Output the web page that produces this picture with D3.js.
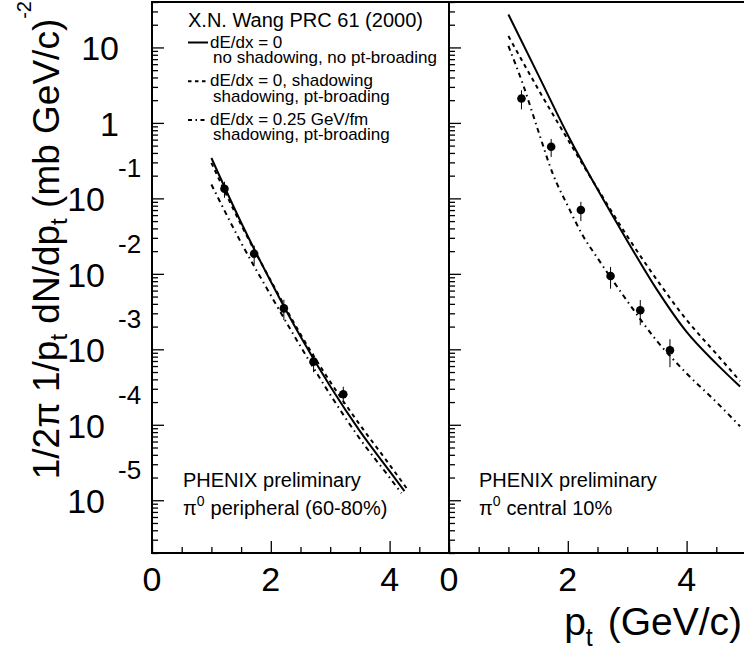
<!DOCTYPE html>
<html><head><meta charset="utf-8">
<script src="https://cdn.jsdelivr.net/npm/d3@7"></script>
<style>
body{margin:0;background:#fff}
svg{display:block}
text{font-family:"Liberation Sans",Arial,Helvetica,sans-serif;fill:#000}
</style>
</head><body><svg id="c" width="744" height="655"></svg>
<script>
// ---------------- data ----------------
const decades = [1e-5, 1e-4, 1e-3, 1e-2, 1e-1, 1, 10];
const decadeExp = [-5, -4, -3, -2, -1, 0, 1];
const xTickLabels = ["0", "2", "4"];
const xTickValues = [0, 2, 4];

// PHENIX pi0 data (peripheral 60-80%)
const ptPeripheral = [1.22, 1.72, 2.22, 2.72, 3.22];
const yieldPeripheral = [0.134, 0.0185, 3.49e-3, 6.87e-4, 2.54e-4];
const errPeripheral = [0.032, 0.0052, 1.05e-3, 1.9e-4, 6.5e-5];
// PHENIX pi0 data (central 10%)
const ptCentral = [1.22, 1.72, 2.22, 2.72, 3.22, 3.72];
const yieldCentral = [2.11, 0.484, 0.070, 9.35e-3, 3.29e-3, 9.7e-4];
const errCentral = [0.6, 0.13, 0.02, 0.003, 1.2e-3, 3.9e-4];

// X.N. Wang curves, peripheral
const ptPerNoShadow = [1.0, 1.5, 2.0, 2.5, 3.0, 3.5, 4.0, 4.25];
const perNoShadow = [0.343, 0.0479, 7.91e-3, 1.476e-3, 3.24e-4, 8.24e-5, 2.43e-5, 1.32e-5];
const ptPerShadow = [1.0, 1.5, 2.0, 2.5, 3.0, 3.5, 4.0, 4.32];
const perShadow = [0.295, 0.0447, 8.13e-3, 1.585e-3, 3.72e-4, 1.0e-4, 2.95e-5, 1.33e-5];
const ptPerQuench = [1.0, 1.5, 2.0, 2.5, 3.0, 3.5, 4.0, 4.2];
const perQuench = [0.153, 0.0259, 5.19e-3, 1.094e-3, 2.51e-4, 6.52e-5, 2.0e-5, 1.24e-5];
// X.N. Wang curves, central
const ptCenNoShadow = [1.0, 1.5, 2.0, 2.5, 3.0, 3.5, 4.0, 4.5, 4.9];
const cenNoShadow = [27.35, 4.365, 0.692, 0.1318, 0.02754, 6.17e-3, 1.70e-3, 6.46e-4, 3.21e-4];
const ptCenShadow = [1.0, 1.5, 2.0, 2.5, 3.0, 3.5, 4.0, 4.5, 4.9];
const cenShadow = [14.13, 2.818, 0.6026, 0.1349, 0.03162, 8.32e-3, 2.455e-3, 8.71e-4, 3.80e-4];
const ptCenQuench = [1.0, 1.25, 1.5, 1.75, 2.0, 2.25, 2.5, 3.0, 3.5, 4.0, 4.5, 4.9];
const cenQuench = [10.47, 3.162, 0.794, 0.209, 0.0794, 0.0324, 0.0162, 4.37e-3, 1.29e-3, 4.79e-4, 2.0e-4, 9.55e-5];

// ---------------- drawing ----------------
(function () {
const svg = d3.select("#c");
svg.append("rect").attr("width", 744).attr("height", 655).attr("fill", "#fff");

const yTop = 2, yBottom = 553;
const y = d3.scaleLog().domain([2e-6, 40]).range([yBottom, yTop]);
const xL = d3.scaleLinear().domain([0, 5]).range([152, 449]);
const xR = d3.scaleLinear().domain([0, 5]).range([449, 746]);

const minors = [];
for (let e = -6; e <= 1; e++) for (let m = 2; m <= 9; m++) {
  const v = m * Math.pow(10, e);
  if (v >= 2e-6 && v <= 40) minors.push(v);
}
const xMinor = d3.range(0.5, 5.01, 0.5).filter(v => v % 2 !== 0);

function styleAxis(g) {
  g.select(".domain").remove();
  g.selectAll(".tick line").attr("stroke", "#000").attr("stroke-width", 1.3);
  g.selectAll(".tick text").remove();
}

function panel(x, x0, x1) {
  svg.append("g").attr("transform", `translate(${x0},0)`)
    .call(d3.axisRight(y).tickValues(decades).tickSize(12).tickFormat("")).call(styleAxis);
  svg.append("g").attr("transform", `translate(${x0},0)`)
    .call(d3.axisRight(y).tickValues(minors).tickSize(6).tickFormat("")).call(styleAxis);
  svg.append("g").attr("transform", `translate(0,${yBottom})`)
    .call(d3.axisTop(x).tickValues(xTickValues).tickSize(12).tickFormat("")).call(styleAxis);
  svg.append("g").attr("transform", `translate(0,${yBottom})`)
    .call(d3.axisTop(x).tickValues(xMinor).tickSize(6).tickFormat("")).call(styleAxis);
  svg.append("rect").attr("x", x0).attr("y", yTop).attr("width", x1 - x0).attr("height", yBottom - yTop)
    .attr("fill", "none").attr("stroke", "#000").attr("stroke-width", 2);
  svg.append("g").selectAll("text").data(xTickValues).join("text")
    .attr("x", d => x(d)).attr("y", 591).attr("text-anchor", "middle")
    .attr("font-size", 34).text((d, i) => xTickLabels[i]);
}
panel(xL, 152, 449);
panel(xR, 449, 746);

decades.forEach((v, i) => {
  const e = decadeExp[i];
  const yy = y(v);
  if (e === 0) {
    svg.append("text").attr("x", 119).attr("y", yy + 13).attr("text-anchor", "end").attr("font-size", 34).text("1");
  } else if (e === 1) {
    svg.append("text").attr("x", 119).attr("y", yy + 13).attr("text-anchor", "end").attr("font-size", 34).text("10");
  } else {
    svg.append("text").attr("x", 105).attr("y", yy + 13).attr("text-anchor", "end").attr("font-size", 34).text("10");
    svg.append("text").attr("x", 118).attr("y", yy - 21).attr("text-anchor", "start").attr("font-size", 26).text(String(e));
  }
});

const dashStyles = {solid: null, dash: "4,4", dashdot: "5,4,1.5,4"};
const legendDash = {solid: null, dash: "3.5,3.5", dashdot: "4,3.5,1.5,3.5"};
function curve(x, pts, vals, style) {
  const data = pts.map((p, i) => [p, vals[i]]);
  svg.append("path").datum(data)
    .attr("d", d3.line().x(d => x(d[0])).y(d => y(d[1])).curve(d3.curveMonotoneX))
    .attr("fill", "none").attr("stroke", "#000").attr("stroke-width", 2)
    .attr("stroke-dasharray", dashStyles[style]);
}
curve(xL, ptPerNoShadow, perNoShadow, "solid");
curve(xL, ptPerShadow, perShadow, "dash");
curve(xL, ptPerQuench, perQuench, "dashdot");
curve(xR, ptCenNoShadow, cenNoShadow, "solid");
curve(xR, ptCenShadow, cenShadow, "dash");
curve(xR, ptCenQuench, cenQuench, "dashdot");

function points(x, pts, vals, errs) {
  const d = pts.map((p, i) => ({p, v: vals[i], e: errs[i]}));
  const g = svg.append("g");
  g.selectAll("line").data(d).join("line")
    .attr("x1", a => x(a.p)).attr("x2", a => x(a.p))
    .attr("y1", a => y(a.v + a.e)).attr("y2", a => y(a.v - a.e))
    .attr("stroke", "#000").attr("stroke-width", 1);
  g.selectAll("circle").data(d).join("circle")
    .attr("cx", a => x(a.p)).attr("cy", a => y(a.v)).attr("r", 4.3).attr("fill", "#000");
}
points(xL, ptPeripheral, yieldPeripheral, errPeripheral);
points(xR, ptCentral, yieldCentral, errCentral);

svg.append("text").attr("x", 188).attr("y", 27).attr("font-size", 20).text("X.N. Wang PRC 61 (2000)");
const legend = [
  {style: "solid", l1: "dE/dx = 0", l2: "no shadowing, no pt-broading"},
  {style: "dash", l1: "dE/dx = 0, shadowing", l2: "shadowing, pt-broading"},
  {style: "dashdot", l1: "dE/dx = 0.25 GeV/fm", l2: "shadowing, pt-broading"}
];
legend.forEach((d, i) => {
  const by = 47.5 + i * 38.7;
  svg.append("line").attr("x1", 188).attr("x2", 208).attr("y1", by - 5).attr("y2", by - 5)
    .attr("stroke", "#000").attr("stroke-width", 2).attr("stroke-dasharray", legendDash[d.style]);
  svg.append("text").attr("x", 210).attr("y", by).attr("font-size", 17).text(d.l1);
  svg.append("text").attr("x", 213).attr("y", by + 15.5).attr("font-size", 17).text(d.l2);
});

function phenix(x0, label) {
  svg.append("text").attr("x", x0).attr("y", 487).attr("font-size", 20).text("PHENIX preliminary");
  const t = svg.append("text").attr("x", x0).attr("y", 515).attr("font-size", 20);
  t.append("tspan").text("π");
  t.append("tspan").attr("dy", -9).attr("font-size", 14).text("0");
  t.append("tspan").attr("dy", 9).attr("dx", 6).text(label);
}
phenix(183, "peripheral (60-80%)");
phenix(479, "central 10%");

const xt = svg.append("text").attr("x", 742).attr("y", 635).attr("text-anchor", "end").attr("font-size", 39);
xt.append("tspan").text("p");
xt.append("tspan").attr("dy", 11).attr("font-size", 25).text("t");
xt.append("tspan").attr("dy", -11).attr("dx", 4).text(" (GeV/c)");

const yt = svg.append("text").attr("transform", "translate(59,1) rotate(-90)")
  .attr("x", 0).attr("y", 0).attr("text-anchor", "end").attr("font-size", 37);
yt.append("tspan").text("1/2π 1/p");
yt.append("tspan").attr("dy", 8).attr("font-size", 24).text("t");
yt.append("tspan").attr("dy", -8).text(" dN/dp");
yt.append("tspan").attr("dy", 8).attr("font-size", 24).text("t");
yt.append("tspan").attr("dy", -8).text(" (mb GeV/c)");
yt.append("tspan").attr("dy", -28).attr("font-size", 20).text("-2");
})();
</script>
</body></html>
